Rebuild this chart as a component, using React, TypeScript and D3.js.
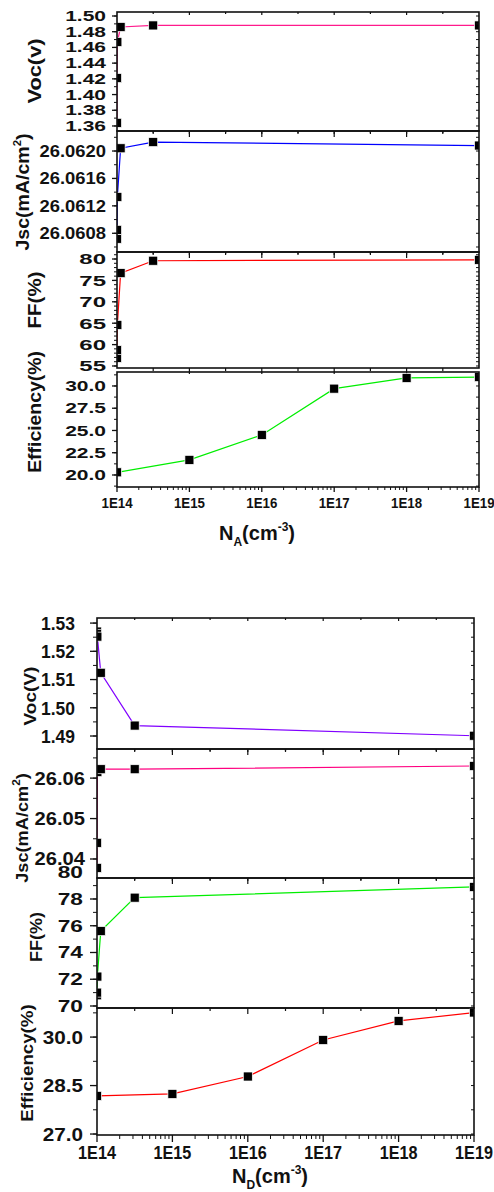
import React from 'react';
import * as d3 from 'd3';

// doping concentration (cm^-3), same for every series
const doping = [1e14, 1e15, 1e16, 1e17, 1e18, 1e19];
const decadeLabels = ['1E14', '1E15', '1E16', '1E17', '1E18', '1E19'];

// acceptor sweep (N_A)
const vocNA = [1.364, 1.421, 1.467, 1.486, 1.488, 1.488];
const jscNA = [26.06072, 26.06085, 26.06133, 26.06204, 26.06213, 26.06208];
const ffNA = [56.9, 58.7, 64.6, 76.7, 79.6, 79.8];
const effNA = [20.3, 21.7, 24.5, 29.7, 30.9, 31.0];

// donor sweep (N_D)
const vocND = [1.527, 1.5262, 1.5252, 1.5124, 1.4937, 1.4901];
const jscND = [26.0378, 26.044, 26.0615, 26.0622, 26.0622, 26.063];
const ffND = [70.8, 71.0, 72.2, 75.6, 78.1, 78.9];
const effND = [28.18, 28.24, 28.78, 29.91, 30.5, 30.76];

// y tick labels
const vocNATicks = [1.36, 1.38, 1.4, 1.42, 1.44, 1.46, 1.48, 1.5];
const jscNATicks = [26.0608, 26.0612, 26.0616, 26.062];
const ffNATicks = [55, 60, 65, 70, 75, 80];
const effNATicks = [20, 22.5, 25, 27.5, 30];
const vocNDTicks = [1.49, 1.5, 1.51, 1.52, 1.53];
const jscNDTicks = [26.04, 26.05, 26.06];
const ffNDTicks = [70, 72, 74, 76, 78, 80];
const effNDTicks = [27, 28.5, 30];

const FONT = '"Liberation Sans", Arial, sans-serif';

type Spec = {
  top: number; bottom: number; domain: [number, number];
  values: number[]; color: string; linear: boolean;
  ticks: number[]; minor: number; fmt: (v: number) => string;
  fs: number; sx: number; right: number;
  title: React.ReactNode; tx: number; ty: number; tfs: number; tsx: number;
};

const supTitle = (base: string, sup: string, end: string) => (
  <>
    {base}
    <tspan fontSize={11} dy={-8}>{sup}</tspan>
    <tspan dy={8}>{end}</tspan>
  </>
);

function Panel({ p, x0, x1, id, major, minorLen }: { p: Spec; x0: number; x1: number; id: string; major: number; minorLen: number }) {
  const y = d3.scaleLinear().domain(p.domain).range([p.bottom, p.top]);
  const x: any = p.linear
    ? d3.scaleLinear().domain([1e14, 1e19]).range([x0, x1])
    : d3.scaleLog().domain([1e14, 1e19]).range([x0, x1]);
  const pts: [number, number][] = doping.map((d, i) => [x(d), y(p.values[i])]);
  const path = d3.line()(pts) || '';
  const inside = (v: number) => v >= Math.min(...p.domain) - 1e-9 && v <= Math.max(...p.domain) + 1e-9;
  const minors = d3.range(Math.ceil(p.domain[0] / p.minor), Math.floor(p.domain[1] / p.minor) + 1)
    .map(k => k * p.minor).filter(inside);
  const linTicks = d3.range(1, 10).map(k => k * 1e18);
  const logMinor: number[] = [];
  d3.range(14, 19).forEach(e => d3.range(2, 10).forEach(m => logMinor.push(m * Math.pow(10, e))));
  return (
    <g>
      <defs>
        <clipPath id={id}>
          <rect x={x0} y={p.top} width={x1 - x0} height={p.bottom - p.top} />
        </clipPath>
      </defs>
      <g clipPath={`url(#${id})`}>
        <path d={path} fill="none" stroke={p.color} strokeWidth={1.2} />
        {pts.map((q, i) => (
          <rect key={i} x={q[0] - 4.5} y={q[1] - 4.5} width={9} height={9} fill="#000" stroke="#fff" strokeWidth={0.7} />
        ))}
      </g>
      {/* left and right axis ticks */}
      {minors.map((v, i) => (
        <line key={'m' + i} x1={x0 - minorLen} x2={x0} y1={y(v)} y2={y(v)} stroke="#111" strokeWidth={1} />
      ))}
      {minors.map((v, i) => (
        <line key={'r' + i} x1={x1 - 3} x2={x1} y1={y(v)} y2={y(v)} stroke="#111" strokeWidth={1} />
      ))}
      {p.ticks.filter(inside).map((v, i) => (
        <line key={'M' + i} x1={x0 - major} x2={x0} y1={y(v)} y2={y(v)} stroke="#111" strokeWidth={1.3} />
      ))}
      {p.ticks.map((v, i) => (
        <text key={'t' + i} transform={`translate(${p.right},${y(v) + p.fs * 0.36}) scale(${p.sx},1)`}
          textAnchor="end" fontSize={p.fs} fontWeight="bold" fontFamily={FONT} fill="#111">{p.fmt(v)}</text>
      ))}
      {/* x ticks */}
      {p.linear ? (
        <>
          {linTicks.map((v, k) => (
            <line key={'b' + k} x1={x(v)} x2={x(v)} y1={p.bottom} y2={p.bottom + (k % 2 === 1 ? 6 : 3)} stroke="#111" strokeWidth={1.2} />
          ))}
          {linTicks.map((v, k) => (
            <line key={'u' + k} x1={x(v)} x2={x(v)} y1={p.top} y2={p.top + (k % 2 === 1 ? 3 : 2)} stroke="#111" strokeWidth={1.2} />
          ))}
        </>
      ) : (
        <>
          {doping.map((v, k) => (
            <line key={'d' + k} x1={x(v)} x2={x(v)} y1={p.bottom} y2={p.bottom + major} stroke="#111" strokeWidth={1.3} />
          ))}
          {logMinor.map((v, k) => (
            <line key={'n' + k} x1={x(v)} x2={x(v)} y1={p.bottom} y2={p.bottom + minorLen} stroke="#111" strokeWidth={1} />
          ))}
        </>
      )}
      <rect x={x0} y={p.top} width={x1 - x0} height={p.bottom - p.top} fill="none" stroke="#111" strokeWidth={1.6} />
      <text transform={`translate(${p.tx},${p.ty}) rotate(-90) scale(${p.tsx},1)`} dy="0.36em" textAnchor="middle"
        fontSize={p.tfs} fontWeight="bold" fontFamily={FONT} fill="#111">{p.title}</text>
    </g>
  );
}

function Figure({ specs, x0, x1, labelY, labelFs, labelSx, titleX, titleY, sub, prefix, major, minorLen }: any) {
  const xl = d3.scaleLog().domain([1e14, 1e19]).range([x0, x1]);
  return (
    <g>
      {specs.map((p: Spec, i: number) => (
        <Panel key={i} p={p} x0={x0} x1={x1} id={`${prefix}${i}`} major={major} minorLen={minorLen} />
      ))}
      {doping.map((d, i) => (
        <text key={i} transform={`translate(${xl(d)},${labelY}) scale(${labelSx},1)`} textAnchor="middle"
          fontSize={labelFs} fontWeight="bold" fontFamily={FONT} fill="#111">{decadeLabels[i]}</text>
      ))}
      <text x={titleX} y={titleY} textAnchor="middle" fontSize={20} fontWeight="bold" fontFamily={FONT} fill="#111">
        N<tspan fontSize={12} dy={6}>{sub}</tspan>
        <tspan fontSize={20} dy={-6}>(cm</tspan>
        <tspan fontSize={12} dy={-9}>-3</tspan>
        <tspan fontSize={20} dy={9}>)</tspan>
      </text>
    </g>
  );
}

const f2 = d3.format('.2f');
const f4 = d3.format('.4f');
const f0 = d3.format('.0f');
const f1 = d3.format('.1f');

const topSpecs: Spec[] = [
  { top: 12, bottom: 131, domain: [1.3536, 1.5051], values: vocNA, color: '#ff1a8c', linear: true,
    ticks: vocNATicks, minor: 0.01, fmt: f2, fs: 14, sx: 1.5, right: 106,
    title: 'Voc(v)', tx: 34, ty: 71, tfs: 19, tsx: 1.15 },
  { top: 131, bottom: 252, domain: [26.060527, 26.062292], values: jscNA, color: '#0000ff', linear: true,
    ticks: jscNATicks, minor: 0.0002, fmt: f4, fs: 16, sx: 1.15, right: 106,
    title: supTitle('Jsc(mA/cm', '2', ')'), tx: 22, ty: 192, tfs: 19, tsx: 1.03 },
  { top: 252, bottom: 368, domain: [54.53, 81.64], values: ffNA, color: '#ff0000', linear: true,
    ticks: ffNATicks, minor: 1, fmt: f0, fs: 15, sx: 1.6, right: 106,
    title: 'FF(%)', tx: 34, ty: 300, tfs: 19, tsx: 1.08 },
  { top: 372, bottom: 487, domain: [18.65, 31.57], values: effNA, color: '#00ee00', linear: false,
    ticks: effNATicks, minor: 1.25, fmt: f1, fs: 14, sx: 1.5, right: 106,
    title: 'Efficiency(%)', tx: 34, ty: 412, tfs: 19, tsx: 1.02 },
];

const bottomSpecs: Spec[] = [
  { top: 618, bottom: 749, domain: [1.4854, 1.5318], values: vocND, color: '#8000ff', linear: true,
    ticks: vocNDTicks, minor: 0.005, fmt: f2, fs: 19, sx: 0.92, right: 75,
    title: 'Voc(V)', tx: 30, ty: 696, tfs: 17, tsx: 1.12 },
  { top: 749, bottom: 878, domain: [26.0353, 26.0672], values: jscND, color: '#ff0080', linear: true,
    ticks: jscNDTicks, minor: 0.005, fmt: f2, fs: 18, sx: 1.12, right: 85,
    title: supTitle('Jsc(mA/cm', '2', ')'), tx: 22, ty: 828, tfs: 17, tsx: 1.07 },
  { top: 878, bottom: 1008, domain: [69.85, 79.57], values: ffND, color: '#00ee00', linear: true,
    ticks: ffNDTicks, minor: 1, fmt: f0, fs: 16, sx: 1.42, right: 83,
    title: 'FF(%)', tx: 36, ty: 937, tfs: 17, tsx: 1.06 },
  { top: 1008, bottom: 1135, domain: [26.97, 30.9], values: effND, color: '#ff0000', linear: false,
    ticks: effNDTicks, minor: 0.75, fmt: f1, fs: 18, sx: 1.15, right: 83,
    title: 'Efficiency(%)', tx: 27, ty: 1063, tfs: 17, tsx: 1.1 },
];

export default function App() {
  return (
    <svg width={494} height={1192} viewBox="0 0 494 1192" style={{ position: 'absolute', left: 0, top: 0, background: '#fff' }}>
      <rect width={494} height={1192} fill="#fff" />
      <Figure specs={topSpecs} x0={117} x1={479} labelY={508} labelFs={14} labelSx={0.95}
        titleX={257} titleY={540} sub="A" prefix="na" major={5} minorLen={3} />
      <Figure specs={bottomSpecs} x0={97} x1={474} labelY={1159} labelFs={18} labelSx={0.9}
        titleX={270} titleY={1183} sub="D" prefix="nd" major={7} minorLen={4} />
    </svg>
  );
}
